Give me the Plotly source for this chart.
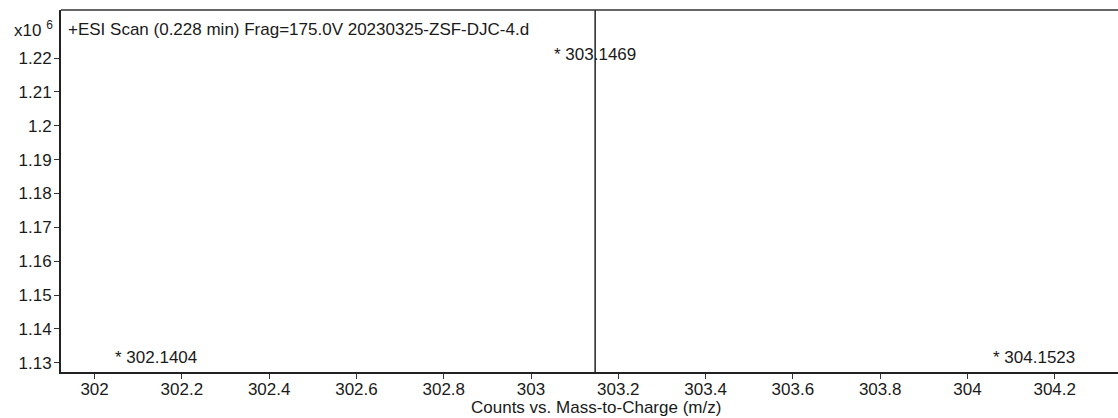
import plotly.graph_objects as go

# Data (m/z peaks and intensities in units of 10^6 counts)
peak_mz = [302.1404, 303.1469, 304.1523]
peak_intensity = [0.21, 1.31, 0.27]  # only the middle peak reaches the visible window
peak_labels = ["302.1404", "303.1469", "304.1523"]
label_pos = [0.039, 0.878, 0.039]  # label heights (paper) for off-scale peaks

x_ticks = [302, 302.2, 302.4, 302.6, 302.8, 303, 303.2, 303.4, 303.6, 303.8, 304, 304.2]
y_ticks = [1.13, 1.14, 1.15, 1.16, 1.17, 1.18, 1.19, 1.2, 1.21, 1.22]

title_text = "+ESI Scan (0.228 min) Frag=175.0V 20230325-ZSF-DJC-4.d"
x_title = "Counts vs. Mass-to-Charge (m/z)"

FONT = "Liberation Sans, Arial, sans-serif"
TXT = "#1a1a1a"
FS = 17

xs, ys = [], []
for mz, inten in zip(peak_mz, peak_intensity):
    xs += [mz, mz, None]
    ys += [0, inten, None]

fig = go.Figure()
fig.add_trace(go.Scatter(x=xs, y=ys, mode="lines",
                         line=dict(color="#000000", width=1.3),
                         hoverinfo="skip", showlegend=False))

for mz, lab, yp in zip(peak_mz, peak_labels, label_pos):
    fig.add_annotation(x=mz, xref="x", y=yp, yref="paper",
                       text="* " + lab, showarrow=False,
                       font=dict(family=FONT, size=FS, color=TXT),
                       xanchor="center", yanchor="middle")

fig.add_annotation(x=0.0047, xref="paper", y=0.9475, yref="paper",
                   text=title_text, showarrow=False, xanchor="left", yanchor="middle",
                   font=dict(family=FONT, size=FS, color=TXT))
fig.add_annotation(x=-0.0057, xref="paper", y=0.9475, yref="paper",
                   text="x10 <sup>6</sup>", showarrow=False, xanchor="right", yanchor="middle",
                   font=dict(family=FONT, size=FS, color=TXT))
fig.add_annotation(x=0.506, xref="paper", y=-0.099, yref="paper",
                   text=x_title, showarrow=False, xanchor="center", yanchor="middle",
                   borderpad=0,
                   font=dict(family=FONT, size=17, color=TXT))

# top frame line
fig.add_shape(type="line", xref="paper", yref="paper", x0=0, x1=1, y0=1, y1=1,
              line=dict(color="#333333", width=1.5))

fig.update_layout(
    width=1118, height=418,
    margin=dict(l=61, r=0, t=10, b=46),
    paper_bgcolor="white", plot_bgcolor="white",
    font=dict(family=FONT, size=FS, color=TXT),
    xaxis=dict(range=[301.923, 304.345], tickmode="array", tickvals=x_ticks,
               ticktext=[f"{v:g}" for v in x_ticks],
               showline=True, linecolor="#222222", linewidth=2,
               ticks="outside", ticklen=5, tickcolor="#333333", tickwidth=1,
               ticklabelstandoff=-4,
               showgrid=False, zeroline=False,
               tickfont=dict(family=FONT, size=FS, color=TXT)),
    yaxis=dict(range=[1.1273, 1.2342], tickmode="array", tickvals=y_ticks,
               ticktext=[f"{v:g}" for v in y_ticks],
               showline=True, linecolor="#222222", linewidth=2,
               ticks="outside", ticklen=5, tickcolor="#333333", tickwidth=1,
               ticklabelstandoff=-1,
               showgrid=False, zeroline=False,
               tickfont=dict(family=FONT, size=FS, color=TXT)),
)

fig.write_html("out.html", config={"displayModeBar": False},
               post_script="document.body.style.margin='0';document.body.style.overflow='hidden';")
